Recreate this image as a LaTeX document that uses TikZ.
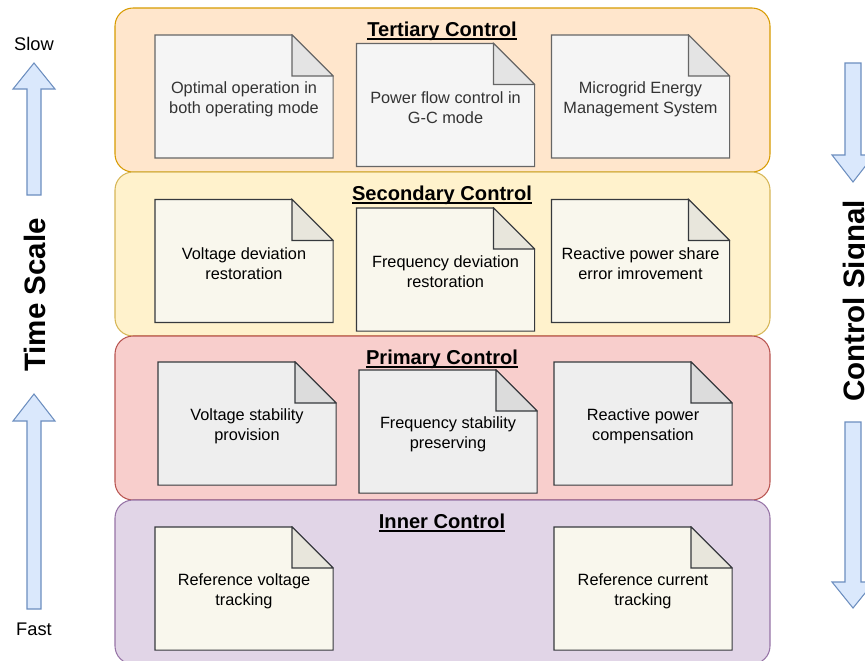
\documentclass[tikz,border=0pt]{standalone}
\usepackage{fontspec}
\setmainfont{Liberation Sans}

\definecolor{tertfill}{HTML}{FFE6CC}
\definecolor{tertline}{HTML}{D79B00}
\definecolor{secfill}{HTML}{FFF2CC}
\definecolor{secline}{HTML}{D6B656}
\definecolor{primfill}{HTML}{F8CECC}
\definecolor{primline}{HTML}{B85450}
\definecolor{innfill}{HTML}{E1D5E7}
\definecolor{innline}{HTML}{9673A6}
\definecolor{arrfill}{HTML}{DAE8FC}
\definecolor{arrline}{HTML}{6C8EBF}
\definecolor{greyfill}{HTML}{F5F5F5}
\definecolor{greyfold}{HTML}{E4E4E4}
\definecolor{greyline}{HTML}{666666}
\definecolor{greytext}{HTML}{333333}
\definecolor{creamfill}{HTML}{F9F7ED}
\definecolor{creamfold}{HTML}{E8E6DC}
\definecolor{darkline}{HTML}{36393D}
\definecolor{lightfill}{HTML}{EEEEEE}
\definecolor{lightfold}{HTML}{DCDCDC}

% underline sitting just under the baseline
\newcommand\titleul[1]{\setbox0\hbox{#1}\rlap{\rule[-2.6pt]{\wd0}{1pt}}\box0}

% sheet with a folded corner: outline drawn inside the node box,
% box is 0.125cm taller at the bottom so the text sits a bit lower
\tikzset{
  layer/.style={line width=0.75pt, rounded corners=0.45cm},
  layertitle/.style={anchor=base, font=\fontsize{14.3}{17}\selectfont\bfseries},
  note/.style n args={3}{rectangle, minimum width=4.45cm+0.75pt, minimum height=3.2cm+0.75pt,
    inner sep=0pt, align=center, font=\fontsize{11.6}{14.2}\selectfont,
    path picture={
      \filldraw[fill=#1, draw=#3, line width=0.75pt, line join=miter]
        ([xshift=0.375pt,yshift=0.125cm+0.375pt]path picture bounding box.south west)
        -- ([xshift=0.375pt,yshift=-0.375pt]path picture bounding box.north west)
        -- ([xshift=-1.025cm-0.375pt,yshift=-0.375pt]path picture bounding box.north east)
        -- ([xshift=-0.375pt,yshift=-1.025cm-0.375pt]path picture bounding box.north east)
        -- ([xshift=-0.375pt,yshift=0.125cm+0.375pt]path picture bounding box.south east) -- cycle;
      \filldraw[fill=#2, draw=#3, line width=0.75pt, line join=miter]
        ([xshift=-1.025cm-0.375pt,yshift=-0.375pt]path picture bounding box.north east)
        -- ([xshift=-1.025cm-0.375pt,yshift=-1.025cm-0.375pt]path picture bounding box.north east)
        -- ([xshift=-0.375pt,yshift=-1.025cm-0.375pt]path picture bounding box.north east) -- cycle;
    }},
  blockarrow/.style={draw=arrline, fill=arrfill, line width=0.75pt, line join=miter},
  side/.style={font=\fontsize{13}{15}\selectfont},
  axis/.style={rotate=90, anchor=base, font=\fontsize{21}{25}\selectfont\bfseries}
}

\begin{document}
\begin{tikzpicture}[x=0.025cm, y=-0.025cm]
\useasboundingbox (0,0) rectangle (865,660);

% control layers, slowest on top
\draw[layer, fill=tertfill, draw=tertline] (115,8) rectangle (770,172);
\draw[layer, fill=secfill, draw=secline] (115,172) rectangle (770,336);
\draw[layer, fill=primfill, draw=primline] (115,336) rectangle (770,500);
\draw[layer, fill=innfill, draw=innline] (115,500) rectangle (770,664);

\node[layertitle] (tert) at (442,36) {\titleul{Tertiary Control}};
\node[layertitle] (sec) at (442,200) {\titleul{Secondary Control}};
\node[layertitle] (prim) at (442,364) {\titleul{Primary Control}};
\node[layertitle] (inn) at (442,528) {\titleul{Inner Control}};

% tertiary
\node[note={greyfill}{greyfold}{greyline}, text=greytext] (optop) at (244,99) {Optimal operation in\\both operating mode};
\node[note={greyfill}{greyfold}{greyline}, text=greytext] (pflow) at (445.5,107.5) {Power flow control in\\G-C mode};
\node[note={greyfill}{greyfold}{greyline}, text=greytext] (mems) at (640.5,99) {Microgrid Energy\\Management System};

% secondary
\node[note={creamfill}{creamfold}{darkline}] (vdev) at (244,263.5) {Voltage deviation\\restoration};
\node[note={creamfill}{creamfold}{darkline}] (fdev) at (445.5,272) {Frequency deviation\\restoration};
\node[note={creamfill}{creamfold}{darkline}] (qshare) at (640.5,263.5) {Reactive power share\\error imrovement};

% primary
\node[note={lightfill}{lightfold}{darkline}] (vstab) at (247,426) {Voltage stability\\provision};
\node[note={lightfill}{lightfold}{darkline}] (fstab) at (448,434) {Frequency stability\\preserving};
\node[note={lightfill}{lightfold}{darkline}] (qcomp) at (643,426) {Reactive power\\compensation};

% inner
\node[note={creamfill}{creamfold}{darkline}] (vref) at (244,591) {Reference voltage\\tracking};
\node[note={creamfill}{creamfold}{darkline}] (iref) at (643,591) {Reference current\\tracking};

% time scale, left
\node[side] (slow) at (34,44) {Slow};
\node[side] (fast) at (34,629) {Fast};
\node[axis] (tscale) at (45,295) {Time Scale};
\draw[blockarrow] (27,195) -- (27,89) -- (13,89) -- (34,63) -- (55,89) -- (41,89) -- (41,195) -- cycle;
\draw[blockarrow] (27,609) -- (27,421) -- (13,421) -- (34,394) -- (55,421) -- (41,421) -- (41,609) -- cycle;

% control signal, right
\node[axis] (csignal) at (864,301) {Control Signal};
\draw[blockarrow] (845,63) -- (845,155) -- (832,155) -- (853,182) -- (874,155) -- (861,155) -- (861,63) -- cycle;
\draw[blockarrow] (845,422) -- (845,582) -- (832,582) -- (853,608) -- (874,582) -- (861,582) -- (861,422) -- cycle;
\end{tikzpicture}
\end{document}
